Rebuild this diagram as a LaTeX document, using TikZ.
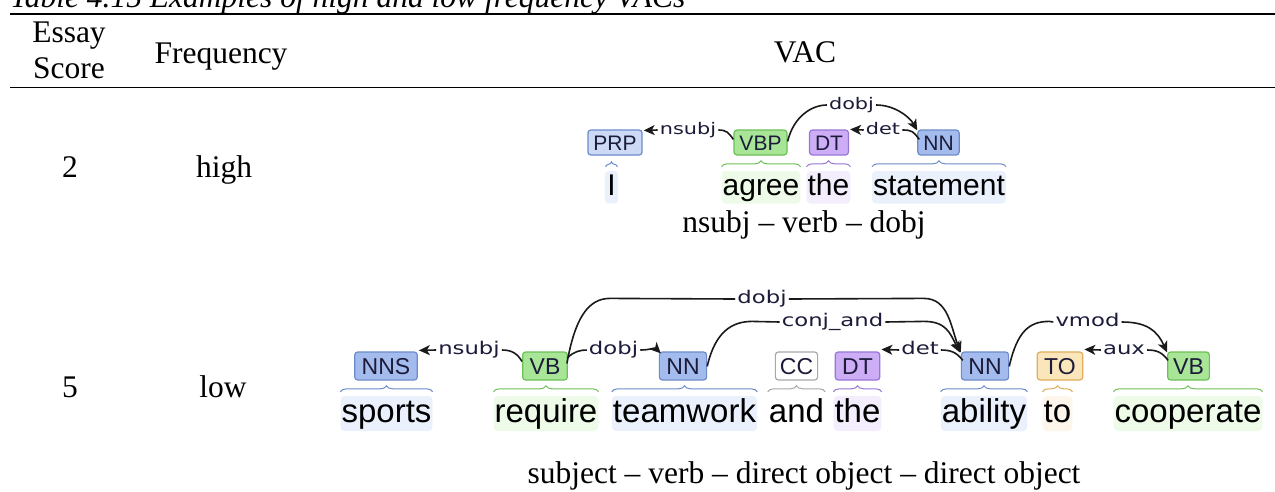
\documentclass[tikz,border=0pt]{standalone}
\usepackage{fontspec}
\setmainfont{Liberation Serif}
\newfontfamily\wordfont{Liberation Sans}
\newfontfamily\tagfont{Liberation Sans}
\newfontfamily\lblfont[FakeStretch=1.3]{DejaVu Sans}
\usetikzlibrary{arrows.meta,calc,decorations.pathreplacing}
\definecolor{nnfill}{HTML}{A4BCED}
\definecolor{nnline}{HTML}{6E8BC9}
\definecolor{prpfill}{HTML}{CCDAF6}
\definecolor{vbfill}{HTML}{A8E597}
\definecolor{vbline}{HTML}{6DBF56}
\definecolor{dtfill}{HTML}{CCADF6}
\definecolor{dtline}{HTML}{9876D6}
\definecolor{tofill}{HTML}{FBE5BA}
\definecolor{toline}{HTML}{E0AE5C}
\definecolor{ccline}{HTML}{A8A8A8}
\definecolor{nnbg}{HTML}{EAF0FC}
\definecolor{vbbg}{HTML}{EDFBE8}
\definecolor{dtbg}{HTML}{F3EDFD}
\definecolor{tobg}{HTML}{FEF6EA}
\definecolor{arcc}{HTML}{1A1A1A}
\definecolor{lblc}{HTML}{1C1C3A}
\tikzset{
  maintext/.style={font=\fontsize{31.5}{36}\selectfont, inner sep=0pt},
  tagA/.style={rounded corners=3pt, line width=1.2pt, font=\tagfont\fontsize{21}{21}\selectfont, text=lblc,
    minimum height=25pt, inner xsep=5.5pt, inner ysep=0pt, text height=15pt, text depth=0pt},
  tagB/.style={rounded corners=3pt, line width=1.2pt, font=\tagfont\fontsize{23}{23}\selectfont, text=lblc,
    minimum height=28pt, inner xsep=7pt, inner ysep=0pt, text height=16.5pt, text depth=0pt},
  nnc/.style={fill=nnfill, draw=nnline},
  prpc/.style={fill=prpfill, draw=nnline},
  vbc/.style={fill=vbfill, draw=vbline},
  dtc/.style={fill=dtfill, draw=dtline},
  toc/.style={fill=tofill, draw=toline},
  ccc/.style={fill=white, draw=ccline},
  wordA/.style={font=\wordfont\fontsize{30}{30}\selectfont, anchor=base, inner xsep=1pt,
    inner ysep=2pt, text height=22pt, text depth=6.5pt, rounded corners=4pt},
  wordB/.style={font=\wordfont\fontsize{33}{33}\selectfont, anchor=base, inner xsep=1pt,
    inner ysep=2pt, text height=24pt, text depth=7pt, rounded corners=4pt},
  lblA/.style={font=\lblfont\fontsize{16}{16}\selectfont, text=lblc, inner xsep=2pt, inner ysep=0pt,
    text height=12.2pt, text depth=3.6pt},
  lblB/.style={font=\lblfont\fontsize{17.5}{17.5}\selectfont, text=lblc, inner xsep=2pt, inner ysep=0pt,
    text height=13.3pt, text depth=4pt},
  deparc/.style={draw=arcc, line width=1.6pt},
  deparr/.style={deparc, -{Stealth[length=11pt,width=10pt,inset=3pt]}},
  brc/.style={decorate, decoration={brace, amplitude=6pt}, line width=1pt},
}
\begin{document}
\begin{tikzpicture}[x=1pt,y=-1pt]
\clip (0,0) rectangle (1275,491);
\fill[white] (0,0) rectangle (1275,491);
% caption and rules
\node[anchor=base west, font=\itshape\fontsize{31.5}{36}\selectfont, inner sep=0pt] (cap) at (10,7)
  {Table 4.15 Examples of high and low frequency VACs};
\draw[line width=2pt] (10,14) -- (1275,14);
\draw[line width=1.5pt] (10,87.5) -- (1275,87.5);
% header
\node[maintext, anchor=base] (hEssay) at (69,42) {Essay};
\node[maintext, anchor=base] (hScore) at (69,78) {Score};
\node[maintext, anchor=base] (hFreq) at (221,63) {Frequency};
\node[maintext, anchor=base] (hVAC) at (805,62) {VAC};
% row labels
\node[maintext, anchor=base] (s2) at (70,177) {2};
\node[maintext, anchor=base] (fhigh) at (224,177) {high};
\node[maintext, anchor=base] (s5) at (70,397) {5};
\node[maintext, anchor=base] (flow) at (223,397) {low};
\node[maintext, anchor=base] (vac1) at (804,232) {nsubj – verb – dobj};
\node[maintext, anchor=base] (vac2) at (804,483) {subject – verb – direct object – direct object};

% ---------- row 1 parse ----------
\node[wordA, fill=nnbg, inner xsep=2.5pt] (wI) at (611.5,195) {I};
\node[wordA, fill=vbbg] (wagree) at (761,195) {agree};
\node[wordA, fill=dtbg] (wthe) at (828.5,195) {the};
\node[wordA, fill=nnbg] (wstatement) at (939,195) {statement};
\node[tagA, prpc] (prp) at (615,142.5) {PRP};
\node[tagA, vbc] (vbp) at (760.5,142.5) {VBP};
\node[tagA, dtc] (dt1) at (829,142.5) {DT};
\node[tagA, nnc] (nn1) at (938.5,142.5) {NN};
\draw[brc, draw=nnline, decoration={brace, amplitude=5pt}] ($(wI.north west)+(1,-4)$) -- ($(wI.north east)+(-1,-4)$);
\draw[brc, draw=vbline] ($(wagree.north west)+(0,-4)$) -- ($(wagree.north east)+(0,-4)$);
\draw[brc, draw=dtline] ($(wthe.north west)+(0,-4)$) -- ($(wthe.north east)+(0,-4)$);
\draw[brc, draw=nnline] ($(wstatement.north west)+(0,-4)$) -- ($(wstatement.north east)+(0,-4)$);
\node[lblA] (nsubj1) at (688,130) {nsubj};
\node[lblA] (dobj1) at (851.5,105) {dobj};
\node[lblA] (det1) at (883,130) {det};
\draw[deparr] (nsubj1.west) -- ($(prp.north east)+(1,1)$);
\draw[deparc] (nsubj1.east) .. controls +(8,0) and +(-5,-7) .. ($(vbp.north west)+(0,10)$);
\draw[deparc] ($(vbp.north east)+(0,12)$) .. controls +(6,-25) and +(-15,0) .. (dobj1.west);
\draw[deparr] (dobj1.east) .. controls +(18,0) and +(-8,-14) .. ($(nn1.north west)+(0,1)$);
\draw[deparr] (det1.west) -- ($(dt1.north east)+(1,0)$);
\draw[deparc] (det1.east) .. controls +(10,0) and +(-6,-8) .. ($(nn1.north west)+(2,10)$);

% ---------- row 2 parse ----------
\node[wordB, fill=nnbg] (wsports) at (386.5,422) {sports};
\node[wordB, fill=vbbg] (wrequire) at (546,422) {require};
\node[wordB, fill=nnbg] (wteamwork) at (684.5,422) {teamwork};
\node[wordB] (wand) at (796.5,422) {and};
\node[wordB, fill=dtbg] (wthe2) at (857.5,422) {the};
\node[wordB, fill=nnbg] (wability) at (984,422) {ability};
\node[wordB, fill=tobg] (wto) at (1057.5,422) {to};
\node[wordB, fill=vbbg] (wcooperate) at (1188,422) {cooperate};
\node[tagB, nnc] (nns) at (386,366) {NNS};
\node[tagB, vbc] (vb1) at (545,366) {VB};
\node[tagB, nnc] (nn2) at (683,366) {NN};
\node[tagB, ccc, inner xsep=4.5pt] (cc) at (796.5,366) {CC};
\node[tagB, dtc] (dt2) at (857.5,366) {DT};
\node[tagB, nnc] (nn3) at (985,366) {NN};
\node[tagB, toc] (to) at (1060,366) {TO};
\node[tagB, vbc, inner xsep=5.5pt] (vb2) at (1188.5,366) {VB};
\draw[brc, draw=nnline] ($(wsports.north west)+(0,-4)$) -- ($(wsports.north east)+(0,-4)$);
\draw[brc, draw=vbline] ($(wrequire.north west)+(0,-4)$) -- ($(wrequire.north east)+(0,-4)$);
\draw[brc, draw=nnline] ($(wteamwork.north west)+(0,-4)$) -- ($(wteamwork.north east)+(0,-4)$);
\draw[brc, draw=ccline] ($(wand.north west)+(0,-4)$) -- ($(wand.north east)+(0,-4)$);
\draw[brc, draw=dtline] ($(wthe2.north west)+(0,-4)$) -- ($(wthe2.north east)+(0,-4)$);
\draw[brc, draw=nnline] ($(wability.north west)+(0,-4)$) -- ($(wability.north east)+(0,-4)$);
\draw[brc, draw=toline] ($(wto.north west)+(0,-4)$) -- ($(wto.north east)+(0,-4)$);
\draw[brc, draw=vbline] ($(wcooperate.north west)+(0,-4)$) -- ($(wcooperate.north east)+(0,-4)$);
\node[lblB] (nsubj2) at (469,350) {nsubj};
\node[lblB] (dobj2) at (613.5,350) {dobj};
\node[lblB] (dobj3) at (762,299) {dobj};
\node[lblB] (conjand) at (832.5,322) {conj\_and};
\node[lblB] (det2) at (920,350) {det};
\node[lblB] (vmod) at (1087.5,322) {vmod};
\node[lblB] (aux) at (1124,350) {aux};
% nsubj
\draw[deparr] (nsubj2.west) -- ($(nns.north east)+(1,-1)$);
\draw[deparc] (nsubj2.east) .. controls +(10,0) and +(-5,-8) .. ($(vb1.north west)+(0,10)$);
% dobj (short)
\draw[deparc] ($(vb1.north east)+(0,6)$) .. controls +(6,-6) and +(-6,0) .. (dobj2.west);
\draw[deparr] (dobj2.east) .. controls +(10,0) and +(-6,-6) .. ($(nn2.north west)+(2,2)$);
% dobj (long)
\draw[deparc] ($(vb1.north east)+(-1,12)$) .. controls +(8,-45) and +(-22,0) .. ($(vb1.north east)+(42,-53)$) -- (dobj3.west);
\draw[deparr] (dobj3.east) -- ($(nn3.north west)+(-37,-53)$) .. controls +(25,0) and +(-10,-25) .. ($(nn3.north west)+(0,1)$);
% conj_and
\draw[deparc] ($(nn2.north east)+(0,15)$) .. controls +(8,-35) and +(-20,0) .. ($(nn2.north east)+(45,-30)$) -- (conjand.west);
\draw[deparr] (conjand.east) -- ($(nn3.north west)+(-37,-30)$) .. controls +(22,0) and +(-10,-20) .. ($(nn3.north west)+(-1,1)$);
% det
\draw[deparr] (det2.west) -- ($(dt2.north east)+(1,-2)$);
\draw[deparc] (det2.east) .. controls +(10,0) and +(-6,-8) .. ($(nn3.north west)+(2,9)$);
% vmod
\draw[deparc] ($(nn3.north east)+(0,15)$) .. controls +(8,-35) and +(-20,0) .. ($(nn3.north east)+(40,-30)$) -- (vmod.west);
\draw[deparr] (vmod.east) .. controls +(25,0) and +(-10,-22) .. ($(vb2.north west)+(0,1)$);
% aux
\draw[deparr] (aux.west) -- ($(to.north east)+(1,-2)$);
\draw[deparc] (aux.east) .. controls +(10,0) and +(-6,-8) .. ($(vb2.north west)+(1,9)$);
\end{tikzpicture}
\end{document}
